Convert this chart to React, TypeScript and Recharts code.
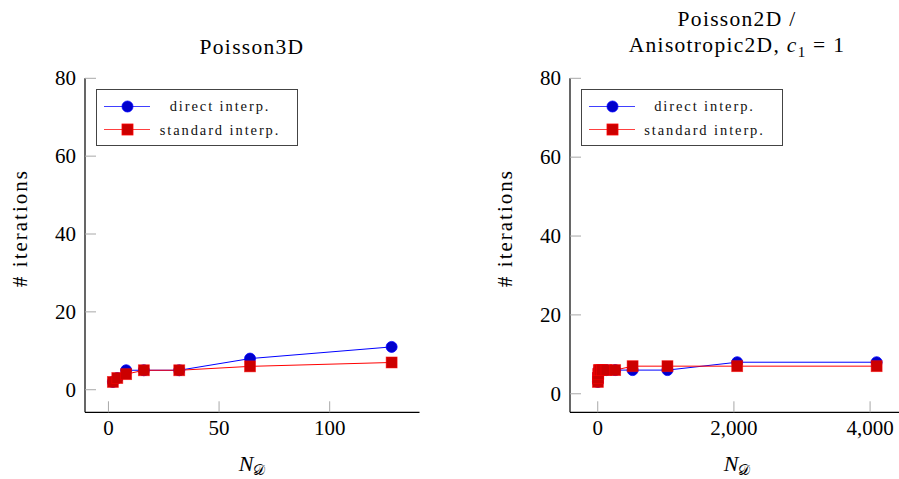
import React from 'react';
import { LineChart, Line, XAxis, YAxis, Legend } from 'recharts';

// ---- data ----
const leftN = [2, 4, 8, 16, 32, 64, 128];
const leftDirect = [2, 3, 5, 5, 5, 8, 11];
const leftStandard = [2, 3, 4, 5, 5, 6, 7];

const rightN = [2, 4, 8, 16, 32, 64, 128, 256, 512, 1024, 2048, 4096];
const rightDirect = [3, 4, 5, 6, 6, 6, 6, 6, 6, 6, 8, 8];
const rightStandard = [3, 4, 5, 6, 6, 6, 6, 6, 7, 7, 7, 7];

const leftXTicks = [0, 50, 100];
const rightXTicks = [0, 2000, 4000];
const yTicks = [0, 20, 40, 60, 80];
const seriesNames = ['direct interp.', 'standard interp.'];

const leftXDomain = [-10.6, 140.6];
const leftYDomain = [-5.8, 80];
const rightXDomain = [-407.4, 4505.4];
const rightYDomain = [-4.7, 80];

// ---- style ----
const FONT = '"Liberation Serif", "DejaVu Serif", serif';
const TICK_GRAY = '#a8a8a8';
const TL = 11;
const BLUE = '#0000ff';
const BLUE_FILL = '#0000cc';
const RED = '#ff0000';
const RED_FILL = '#cc0000';

const CircleDot = (p: any) => {
  const { cx, cy, index } = p;
  if (cx == null || cy == null) return <g key={'c' + index} />;
  return <circle key={'c' + index} cx={cx} cy={cy} r={5.5} fill={BLUE_FILL} stroke={BLUE} strokeWidth={0.8} />;
};
const SquareDot = (p: any) => {
  const { cx, cy, index } = p;
  if (cx == null || cy == null) return <g key={'s' + index} />;
  return <rect key={'s' + index} x={cx - 5.5} y={cy - 5.5} width={11} height={11} fill={RED_FILL} stroke={RED} strokeOpacity={0.6} strokeWidth={0.8} />;
};

const LegendBox = () => (
  <div style={{ width: 202, height: 57, border: '1.4px solid #444', boxSizing: 'border-box', background: '#fff', position: 'relative', fontFamily: FONT }}>
    {seriesNames.map((name, i) => (
      <div key={name} style={{ position: 'absolute', left: 0, top: i === 0 ? 5 : 28.5, width: 200, height: 23 }}>
        <svg width={60} height={23} style={{ position: 'absolute', left: 0, top: 0 }}>
          <line x1={7} x2={53} y1={11.5} y2={11.5} stroke={i === 0 ? BLUE : RED} strokeWidth={1} strokeOpacity={0.75} />
          {i === 0 ? (
            <circle cx={30.5} cy={11.5} r={5.5} fill={BLUE_FILL} stroke={BLUE} strokeWidth={0.8} />
          ) : (
            <rect x={25} y={6} width={11} height={11} fill={RED_FILL} stroke={RED} strokeWidth={0.8} />
          )}
        </svg>
        <div style={{ position: 'absolute', left: 123, top: 11.5, transform: 'translate(-50%,-50%)', whiteSpace: 'nowrap', fontSize: 14.5, letterSpacing: 1.9, color: '#111' }}>
          {name}
        </div>
      </div>
    ))}
  </div>
);

function Panel(props: any) {
  const { xs, direct, standard, xDomain, yDomain, xTicks, fmt } = props;
  const data = xs.map((n: number, i: number) => ({ n, direct: direct[i], standard: standard[i] }));

  const bottomTick = (p: any) => {
    const { x, y, payload } = p;
    return (
      <g>
        <line x1={x} x2={x} y1={y} y2={y - TL} stroke={TICK_GRAY} />
        <text x={x} y={y + 16} textAnchor="middle" dominantBaseline="central" fontFamily={FONT} fontSize={21} fill="#000">
          {fmt(payload.value)}
        </text>
      </g>
    );
  };
  const topTick = (p: any) => {
    const { x, y } = p;
    return <line x1={x} x2={x} y1={y} y2={y + TL} stroke={TICK_GRAY} />;
  };
  const leftTick = (p: any) => {
    const { x, y, payload } = p;
    const ax = x + 9;
    return (
      <g>
        <line x1={ax} x2={ax + TL} y1={y} y2={y} stroke={TICK_GRAY} />
        <text x={x} y={y} textAnchor="end" dominantBaseline="central" fontFamily={FONT} fontSize={21} fill="#000">
          {payload.value}
        </text>
      </g>
    );
  };
  const rightTick = (p: any) => {
    const { x, y } = p;
    return <line x1={x} x2={x - TL} y1={y} y2={y} stroke={TICK_GRAY} />;
  };
  const axisLine = { stroke: '#000', strokeWidth: 1.2 };

  return (
    <LineChart width={450} height={479} data={data} margin={{ top: 78.3, right: 30.5, bottom: 36.7, left: 0 }}>
      <XAxis dataKey="n" type="number" domain={xDomain} ticks={xTicks} allowDataOverflow interval={0}
        height={30} tickSize={0} tickMargin={0} tickLine={false} axisLine={axisLine} tick={bottomTick} />
      <XAxis xAxisId="top" orientation="top" dataKey="n" type="number" domain={xDomain} ticks={xTicks} allowDataOverflow interval={0}
        height={0} tickSize={0} tickMargin={0} tickLine={false} axisLine={axisLine} tick={topTick} />
      <YAxis type="number" domain={yDomain} ticks={yTicks} allowDataOverflow interval={0}
        width={85} tickSize={0} tickMargin={9} tickLine={false} axisLine={axisLine} tick={leftTick} />
      <YAxis yAxisId="right" orientation="right" type="number" domain={yDomain} ticks={yTicks} allowDataOverflow interval={0}
        width={0} tickSize={0} tickMargin={0} tickLine={false} axisLine={axisLine} tick={rightTick} />
      <Legend layout="vertical" align="center" verticalAlign="middle" content={() => <LegendBox />}
        wrapperStyle={{ left: 96, top: 88.5, width: 202, height: 57 }} />
      <Line name={seriesNames[0]} dataKey="direct" type="linear" stroke={BLUE} strokeWidth={1} dot={CircleDot} activeDot={false} isAnimationActive={false} />
      <Line name={seriesNames[1]} dataKey="standard" type="linear" stroke={RED} strokeWidth={1} dot={SquareDot} activeDot={false} isAnimationActive={false} />
    </LineChart>
  );
}

const center = (x: number, y: number, extra: any = {}) => ({
  position: 'absolute' as const, left: x, top: y, transform: 'translate(-50%,-50%)', whiteSpace: 'nowrap' as const, ...extra,
});

const YLabel = ({ x }: { x: number }) => (
  <div style={center(x, 228, { transform: 'translate(-50%,-50%) rotate(-90deg)', fontSize: 21, letterSpacing: 2 })}>
    # iterations
  </div>
);
const XLabel = ({ x }: { x: number }) => (
  <div style={center(x, 464, { fontSize: 22, lineHeight: 1 })}>
    <i>N</i><span style={{ fontSize: 15, position: 'relative', top: 4 }}>𝒟</span>
  </div>
);

export default function App() {
  const fmtPlain = (v: number) => String(v);
  const fmtComma = (v: number) => v.toLocaleString('en-US');
  return (
    <div style={{ position: 'absolute', left: 0, top: 0, width: 899, height: 479, overflow: 'hidden', background: '#fff', fontFamily: FONT, color: '#000' }}>
      <div style={{ position: 'absolute', left: 0, top: 0 }}>
        <Panel xs={leftN} direct={leftDirect} standard={leftStandard} xDomain={leftXDomain} yDomain={leftYDomain} xTicks={leftXTicks} fmt={fmtPlain} />
      </div>
      <div style={{ position: 'absolute', left: 484.5, top: 0 }}>
        <Panel xs={rightN} direct={rightDirect} standard={rightStandard} xDomain={rightXDomain} yDomain={rightYDomain} xTicks={rightXTicks} fmt={fmtComma} />
      </div>
      <div style={center(252, 47, { fontSize: 21.5, letterSpacing: 1.3 })}>Poisson3D</div>
      <div style={center(737, 19, { fontSize: 21.5, letterSpacing: 1.3 })}>Poisson2D /</div>
      <div style={center(737, 46.5, { fontSize: 21.5, letterSpacing: 1.3 })}>
        Anisotropic2D, <i>c</i><sub style={{ fontSize: 15 }}>1</sub> = 1
      </div>
      <YLabel x={20} />
      <YLabel x={505} />
      <XLabel x={252} />
      <XLabel x={737} />
    </div>
  );
}
